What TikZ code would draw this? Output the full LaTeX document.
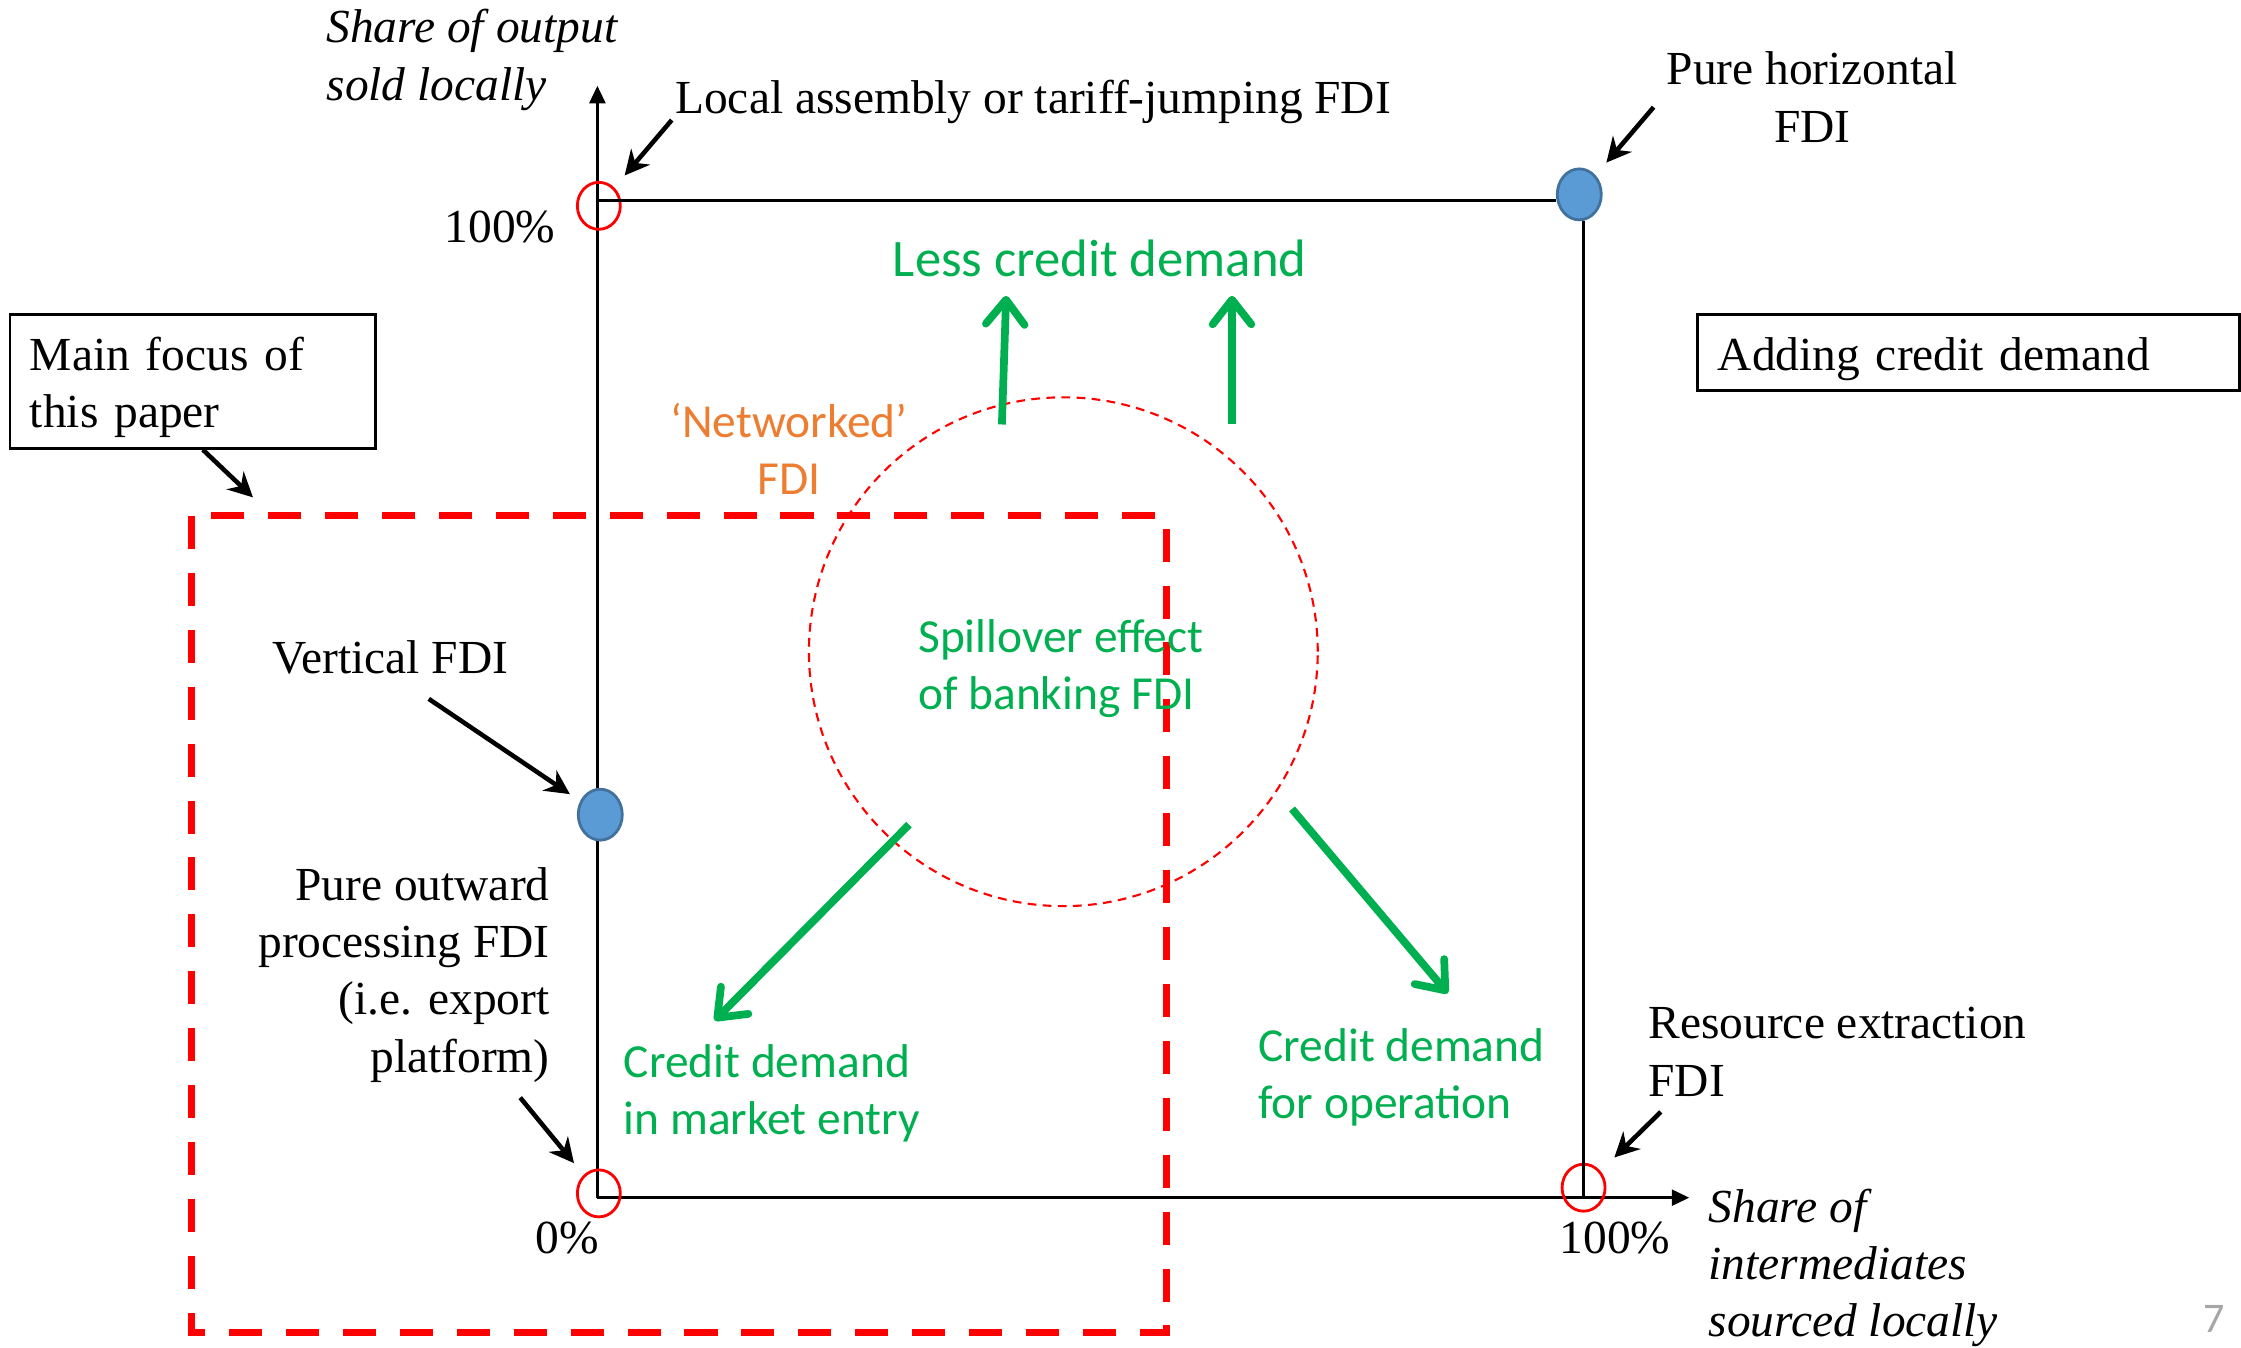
\documentclass[tikz,border=0pt]{standalone}
\usepackage{fontspec}
\setmainfont{Liberation Serif}
\newfontfamily\calibrifont{Carlito}
\usepackage{tikz}
\usetikzlibrary{arrows.meta, shapes.geometric, positioning, calc}
\definecolor{creditgreen}{RGB}{0,176,80}
\definecolor{netorange}{RGB}{237,125,49}
\definecolor{fdiblue}{RGB}{91,155,213}
\definecolor{fdiblueline}{RGB}{65,113,156}
\definecolor{focusred}{RGB}{255,0,0}
\definecolor{pagegray}{RGB}{166,166,166}

\tikzset{
  axisline/.style={line width=0.9pt, -{Triangle[length=5pt,width=4.5pt]}},
  frameline/.style={line width=0.9pt},
  ring/.style={ellipse, draw=focusred, line width=0.8pt, minimum width=0.43cm, minimum height=0.47cm, inner sep=0pt},
  fdidot/.style={ellipse, draw=fdiblueline, fill=fdiblue, line width=0.8pt, minimum width=0.44cm, minimum height=0.51cm, inner sep=0pt},
  pointer/.style={line width=1.3pt, -{Stealth[length=7pt,width=7pt,inset=2.3pt]}},
  creditarrow/.style={creditgreen, line width=2.2pt, -{Straight Barb[length=7pt,width=11pt,round]}},
  blk/.style={inner sep=0pt, font=\fontsize{13.5}{16.3}\selectfont},
  axlab/.style={inner sep=0pt, align=left, font=\fontsize{13.5}{16.3}\selectfont\itshape},
  grn/.style={inner sep=0pt, text=creditgreen, font=\calibrifont\fontsize{13.5}{16.3}\selectfont},
  notebox/.style={draw, line width=0.8pt, inner xsep=0.2cm, inner ysep=0pt, align=left, font=\fontsize{13.5}{16.3}\selectfont}
}

\begin{document}
\begin{tikzpicture}[x=0.014292cm, y=-0.014292cm]
    \useasboundingbox (0,0) rectangle (1568,943);

    \coordinate (origin) at (418,838);
    \coordinate (ytip) at (418,60);
    \coordinate (xtip) at (1182,838);
    \coordinate (ytop) at (418,140);
    \coordinate (xright) at (1108,838);

    \draw[axisline] (origin) -- (ytip);
    \draw[axisline] (origin) -- (xtip);

    \node[ring] (c100) at (419,144) {};
    \node[ring] (c0) at (419,835) {};
    \node[ring] (c100x) at (1108,831) {};
    \node[fdidot] (phz) at (1105,136) {};
    \node[fdidot] (vdot) at (420,570) {};

    \draw[frameline] (ytop) -- (ytop -| phz.west);
    \draw[frameline] (xright) -- (xright |- phz.south);

    \draw[focusred, line width=2pt, dash pattern=on 9.4pt off 6.8pt] (134,361) rectangle (816,932);

    \node[circle, draw=focusred, line width=0.6pt, dash pattern=on 2.5pt off 1.8pt, minimum size=5.09cm, inner sep=0pt] (spill) at (744,456) {};

    \node[axlab, anchor=west] (ylab) at (228,42) {Share of output\\sold locally};
    \node[axlab, anchor=west] (xlab) at (1195,887) {Share of\\intermediates\\sourced locally};
    \node[blk, anchor=west] (lasm) at (472,71) {Local assembly or tariff-jumping FDI};
    \node[blk, align=center] (phor) at (1268,68) {Pure horizontal\\FDI};
    \node[blk, anchor=east] (y100) at (389,159) {100\%};
    \node[blk] (x0) at (397,866) {0\%};
    \node[blk] (x100) at (1130,866) {100\%};
    \node[blk] (vfdi) at (273,460) {Vertical FDI};
    \node[blk, anchor=east, align=right] (pout) at (385,682) {Pure outward\\processing FDI\\(i.e. export\\platform)};
    \node[blk, anchor=west, align=left] (res) at (1153,736) {Resource extraction\\FDI};

    \node[notebox, anchor=north west, minimum width=3.66cm, minimum height=1.34cm, text width=3.26cm] (focus) at (6,219) {\rule{0pt}{0.46cm}Main focus of\\this paper};
    \node[notebox, anchor=north west, minimum width=5.42cm, minimum height=0.76cm, text width=5.02cm] (adding) at (1187,219) {\rule{0pt}{0.46cm}Adding credit demand};

    \node[grn, font=\calibrifont\fontsize{15}{18}\selectfont] (less) at (769.5,181) {Less credit demand};
    \node[grn, text=netorange, align=center] (net) at (552,314) {‘Networked’\\FDI};
    \node[grn, anchor=west, align=left] (spilltext) at (642,468) {Spillover effect\\of banking FDI};
    \node[grn, anchor=west, align=left] (entry) at (436,765) {Credit demand\\in market entry};
    \node[grn, anchor=west, align=left] (oper) at (880,754) {Credit demand\\for operation};
    \node[inner sep=0pt, text=pagegray, font=\calibrifont\fontsize{12}{14}\selectfont] (pagenum) at (1549,923) {7};

    \coordinate (lasm-tail) at (470,84);
    \coordinate (phor-tail) at (1157,75);
    \coordinate (vfdi-tail) at (300,489);
    \coordinate (pout-tail) at (364,768);
    \coordinate (res-tail) at (1162,778);
    \coordinate (focus-head) at (177,348);

    \draw[pointer, shorten >=4.5pt] (lasm-tail) -- (c100);
    \draw[pointer, shorten >=4.7pt] (phor-tail) -- (phz);
    \draw[pointer, shorten >=3.5pt] (vfdi-tail) -- (vdot);
    \draw[pointer, shorten >=4.3pt] (pout-tail) -- (c0);
    \draw[pointer, shorten >=5.5pt] (res-tail) -- (c100x);
    \draw[pointer] ([xshift=0.1cm]focus.south) -- (focus-head);

    \coordinate (up1-tail) at (701,297);
    \coordinate (up1-head) at (704,207);
    \coordinate (up2-tail) at (862,297);
    \coordinate (up2-head) at (862,207);
    \coordinate (entry-tail) at (636,577);
    \coordinate (entry-head) at (500,714);
    \coordinate (oper-tail) at (904,566);
    \coordinate (oper-head) at (1013,695);

    \draw[creditarrow] (up1-tail) -- (up1-head);
    \draw[creditarrow] (up2-tail) -- (up2-head);
    \draw[creditarrow] (entry-tail) -- (entry-head);
    \draw[creditarrow] (oper-tail) -- (oper-head);
\end{tikzpicture}
\end{document}
